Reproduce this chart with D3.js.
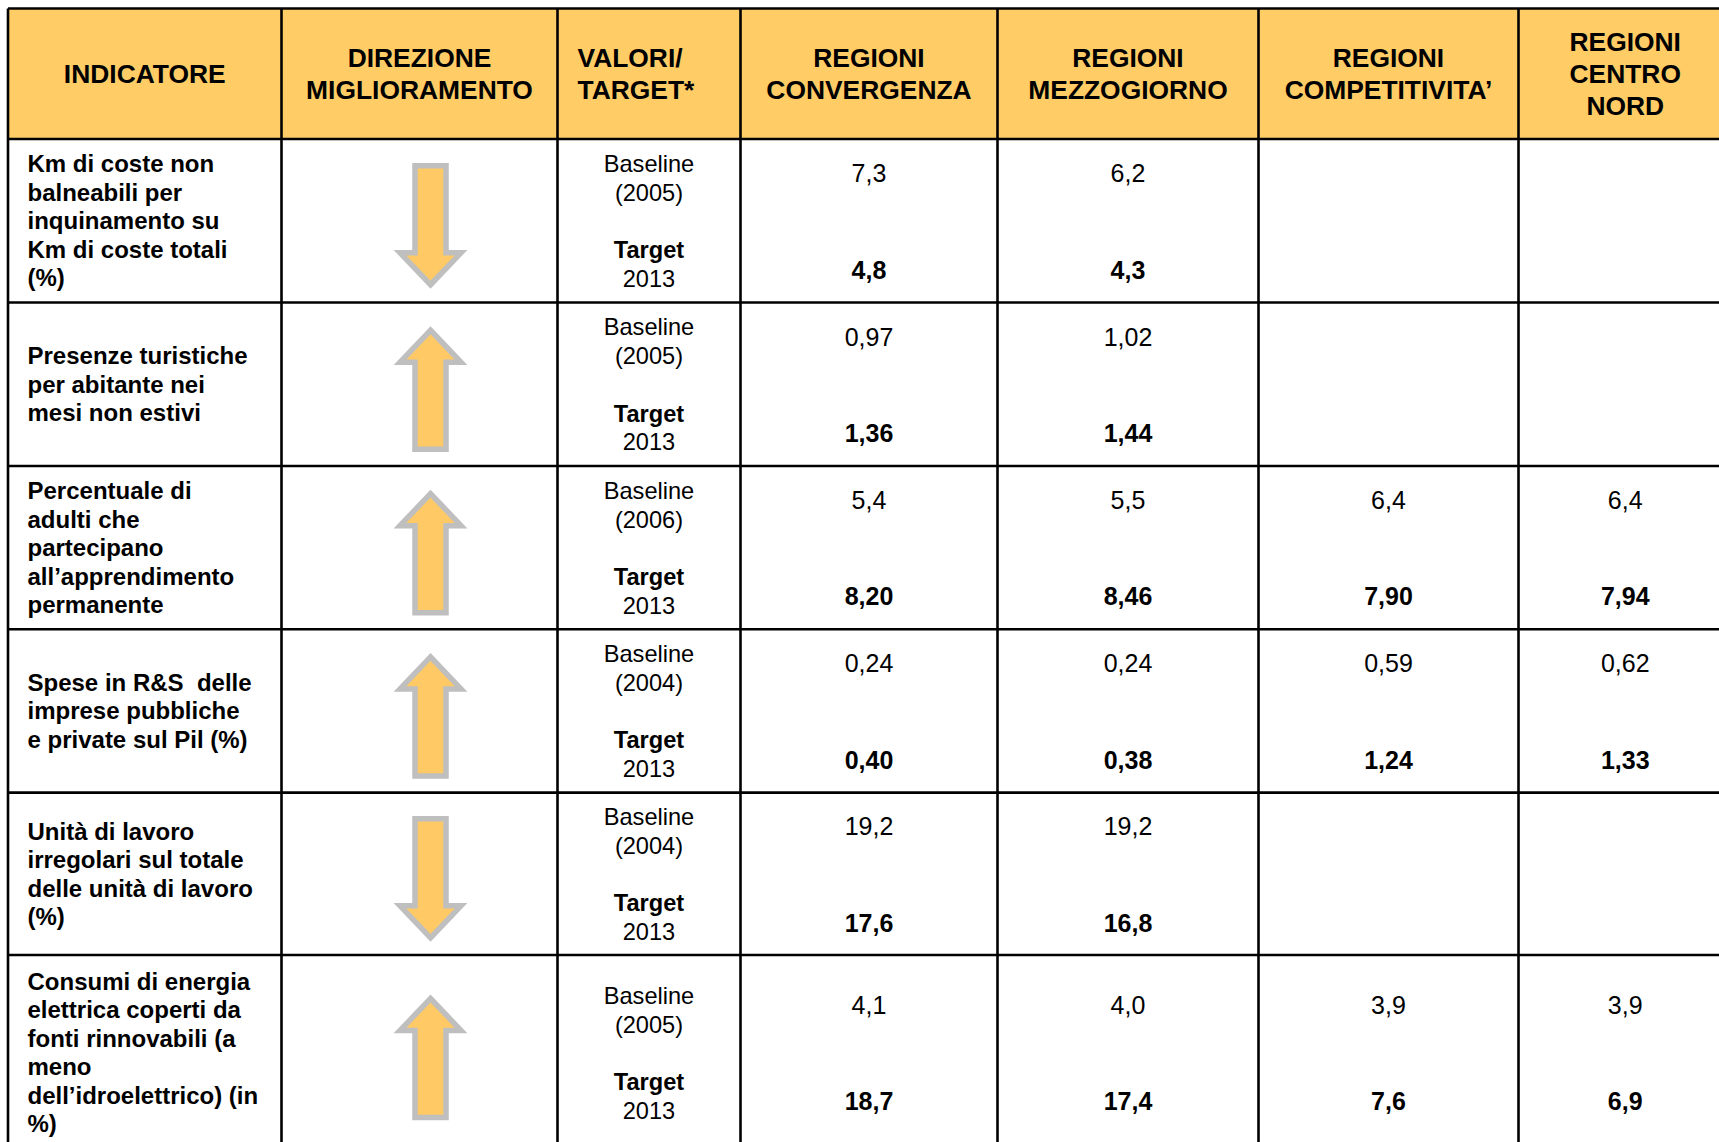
<!DOCTYPE html>
<html>
<head>
<meta charset="utf-8">
<script src="https://cdn.jsdelivr.net/npm/d3@7/dist/d3.min.js"></script>
<style>
  html, body { margin: 0; padding: 0; background: #fff; overflow: hidden; }
  svg { display: block; font-family: "Liberation Sans", Arial, sans-serif; }
  text { white-space: pre; }
</style>
</head>
<body>
<div id="table"></div>
<script>
// table data
var headers = [
  ["INDICATORE"],
  ["DIREZIONE", "MIGLIORAMENTO"],
  ["VALORI/", "TARGET*"],
  ["REGIONI", "CONVERGENZA"],
  ["REGIONI", "MEZZOGIORNO"],
  ["REGIONI", "COMPETITIVITA’"],
  ["REGIONI", "CENTRO", "NORD"]
];

var indicators = [
  ["Km di coste non", "balneabili per", "inquinamento su", "Km di coste totali", "(%)"],
  ["Presenze turistiche", "per abitante nei", "mesi non estivi"],
  ["Percentuale di", "adulti che", "partecipano", "all’apprendimento", "permanente"],
  ["Spese in R&S  delle", "imprese pubbliche", "e private sul Pil (%)"],
  ["Unità di lavoro", "irregolari sul totale", "delle unità di lavoro", "(%)"],
  ["Consumi di energia", "elettrica coperti da", "fonti rinnovabili (a", "meno", "dell’idroelettrico) (in", "%)"]
];

var directions = ["down", "up", "up", "up", "down", "up"];
var baselineYears = ["(2005)", "(2005)", "(2006)", "(2004)", "(2004)", "(2005)"];
var targetYear = "2013";

var convBase   = ["7,3", "0,97", "5,4", "0,24", "19,2", "4,1"];
var convTarget = ["4,8", "1,36", "8,20", "0,40", "17,6", "18,7"];
var mezzBase   = ["6,2", "1,02", "5,5", "0,24", "19,2", "4,0"];
var mezzTarget = ["4,3", "1,44", "8,46", "0,38", "16,8", "17,4"];
var compBase   = ["", "", "6,4", "0,59", "", "3,9"];
var compTarget = ["", "", "7,90", "1,24", "", "7,6"];
var cnBase     = ["", "", "6,4", "0,62", "", "3,9"];
var cnTarget   = ["", "", "7,94", "1,33", "", "6,9"];

// layout
var width = 1719, height = 1142;
var colEdges = [8, 281.5, 557.5, 740.5, 997.5, 1258.5, 1518.5, 1732];
var rowEdges = [8.5, 139, 302.5, 466, 629.3, 792.6, 955, 1150];
var headFill = "#ffcc66",
    arrowFill = "#ffc966",
    arrowStroke = "#bfbfbf",
    lineW = 2.6;

var svg = d3.select("#table").append("svg")
    .attr("width", width)
    .attr("height", height);

function colMid(i) { return (colEdges[i] + colEdges[i + 1]) / 2; }
function rowMid(i) { return (rowEdges[i] + rowEdges[i + 1]) / 2; }

// header band
svg.append("rect")
    .attr("x", colEdges[0]).attr("y", rowEdges[0])
    .attr("width", colEdges[7] - colEdges[0])
    .attr("height", rowEdges[1] - rowEdges[0])
    .attr("fill", headFill);

// header texts
var hg = svg.append("g").attr("font-weight", "bold").attr("font-size", 26.4).attr("fill", "#000");
headers.forEach(function(lines, c) {
  var left = c == 2;
  var t = hg.append("text")
      .attr("text-anchor", left ? "start" : "middle")
      .attr("x", left ? colEdges[c] + 20 : colMid(c));
  var y0 = rowMid(0) + 9.5 - (lines.length - 1) * 16;
  t.selectAll("tspan").data(lines).enter().append("tspan")
      .attr("x", left ? colEdges[c] + 20 : colMid(c))
      .attr("y", function(d, i) { return y0 + i * 32; })
      .text(function(d) { return d; });
});

var rows = indicators.map(function(d, i) {
  return {
    ind: d, dir: directions[i], year: baselineYears[i],
    vals: [[convBase[i], convTarget[i]], [mezzBase[i], mezzTarget[i]],
           [compBase[i], compTarget[i]], [cnBase[i], cnTarget[i]]]
  };
});

var rg = svg.selectAll(".row").data(rows).enter().append("g")
    .attr("class", "row");

// indicator name
var lineH = 28.4;
rg.append("text")
    .attr("font-weight", "bold").attr("font-size", 24)
    .each(function(d, i) {
      var m = rowMid(i + 1);
      var y0 = m + 8.5 - (d.ind.length - 1) * lineH / 2;
      d3.select(this).selectAll("tspan").data(d.ind).enter().append("tspan")
          .attr("x", 27.5)
          .attr("y", function(s, k) { return y0 + k * lineH; })
          .text(function(s) { return s; });
    });

// arrows
function arrowPath(dir) {
  // outline centred on 0,0
  var p = [[0, -59], [30.5, -27], [15.5, -27], [15.5, 60], [-15.5, 60], [-15.5, -27], [-30.5, -27]];
  var s = dir == "up" ? 1 : -1;
  return "M" + p.map(function(q) { return q[0] + "," + (q[1] * s); }).join("L") + "Z";
}
rg.append("path")
    .attr("d", function(d) { return arrowPath(d.dir); })
    .attr("transform", function(d, i) { return "translate(" + (colMid(1) + 11) + "," + (rowMid(i + 1) + 5) + ")"; })
    .attr("fill", arrowFill)
    .attr("stroke", arrowStroke)
    .attr("stroke-width", 5.5)
    .attr("stroke-linejoin", "miter");

// baseline / target labels
rg.each(function(d, i) {
  var g = d3.select(this), m = rowMid(i + 1), x = colMid(2);
  var lab = [
    {t: "Baseline", dy: -49, b: false},
    {t: d.year, dy: -19.8, b: false},
    {t: "Target", dy: 37.3, b: true},
    {t: targetYear, dy: 66, b: false}
  ];
  g.selectAll(".lab").data(lab).enter().append("text")
      .attr("class", "lab")
      .attr("x", x).attr("y", function(l) { return m + l.dy; })
      .attr("text-anchor", "middle")
      .attr("font-size", 23.6)
      .attr("font-weight", function(l) { return l.b ? "bold" : "normal"; })
      .text(function(l) { return l.t; });

  // region values
  d.vals.forEach(function(v, c) {
    var cx = colMid(c + 3);
    g.append("text")
        .attr("x", cx).attr("y", m - 38.5)
        .attr("text-anchor", "middle").attr("font-size", 25)
        .text(v[0]);
    g.append("text")
        .attr("x", cx).attr("y", m + 57.8)
        .attr("text-anchor", "middle").attr("font-size", 25).attr("font-weight", "bold")
        .text(v[1]);
  });
});

// grid lines
var grid = svg.append("g").attr("stroke", "#000").attr("stroke-width", lineW);
grid.selectAll(".h").data(rowEdges).enter().append("line")
    .attr("x1", colEdges[0]).attr("x2", colEdges[7])
    .attr("y1", function(d) { return d; }).attr("y2", function(d) { return d; });
grid.selectAll(".v").data(colEdges).enter().append("line")
    .attr("y1", rowEdges[0]).attr("y2", rowEdges[7])
    .attr("x1", function(d) { return d; }).attr("x2", function(d) { return d; });
</script>
</body>
</html>
